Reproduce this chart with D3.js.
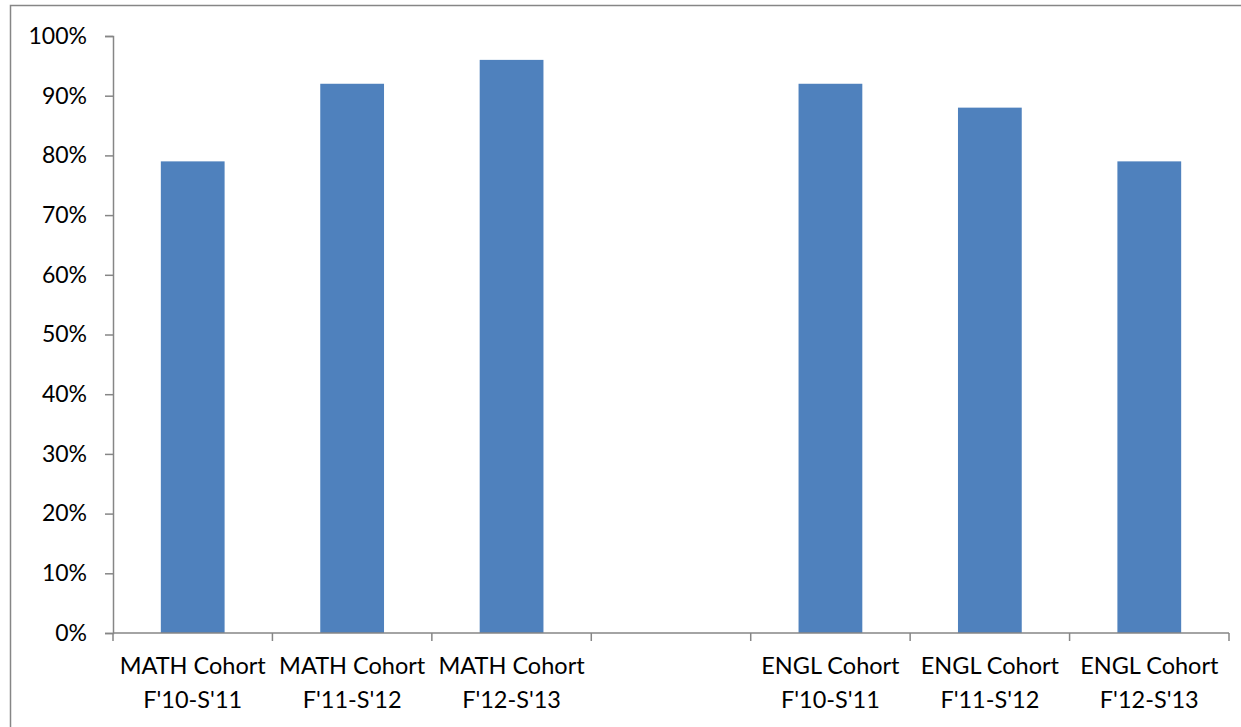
<!DOCTYPE html>
<html>
<head>
<meta charset="utf-8">
<script src="https://cdn.jsdelivr.net/npm/d3@7"></script>
<style>
  html, body { margin: 0; padding: 0; background: #fff; }
  svg { display: block; }
  text { font-family: Lato, "Open Sans", sans-serif; fill: #000; }
</style>
</head>
<body>
<svg id="chart" width="1241" height="727"></svg>
<script>
// Cohort categories (the blank one separates the MATH and ENGL groups)
const categories = [
  ["MATH Cohort", "F'10-S'11"],
  ["MATH Cohort", "F'11-S'12"],
  ["MATH Cohort", "F'12-S'13"],
  ["", ""],
  ["ENGL Cohort", "F'10-S'11"],
  ["ENGL Cohort", "F'11-S'12"],
  ["ENGL Cohort", "F'12-S'13"]
];
// Share per cohort, in percent (null = no bar)
const values = [79, 92, 96, null, 92, 88, 79];
const yTicks = [0, 10, 20, 30, 40, 50, 60, 70, 80, 90, 100];

const svg = d3.select("#chart");
const margin = { left: 113, right: 12, top: 36, bottom: 94 };
const W = 1241, H = 727;
const x0 = margin.left, x1 = W - margin.right;
const y0 = H - margin.bottom, y1 = margin.top;

// outer chart frame
svg.append("rect")
  .attr("x", 10.5).attr("y", 5.5)
  .attr("width", 1240).attr("height", 740)
  .attr("fill", "none").attr("stroke", "#868686").attr("stroke-width", 1.5);

const idx = categories.map((d, i) => i);
const x = d3.scaleBand().domain(idx).range([x0, x1])
  .paddingInner(0.6).paddingOuter(0.3);
const y = d3.scaleLinear().domain([0, 100]).range([y0, y1]);

// bars
svg.append("g").selectAll("rect")
  .data(values.map((v, i) => ({ v, i })).filter(d => d.v != null))
  .join("rect")
  .attr("x", d => x(d.i))
  .attr("width", x.bandwidth())
  .attr("y", d => y(d.v))
  .attr("height", d => y(0) - y(d.v))
  .attr("fill", "#4F81BD");

// y axis
const yAxis = svg.append("g")
  .attr("transform", `translate(${x0},0)`)
  .call(d3.axisLeft(y).tickValues(yTicks).tickFormat(d => d + "%").tickSize(8).tickPadding(18));
yAxis.select(".domain").attr("stroke", "#868686").attr("stroke-width", 1.5);
yAxis.selectAll(".tick line").attr("stroke", "#868686").attr("stroke-width", 1.5);
yAxis.selectAll(".tick text").style("font-size", "23px").attr("font-family", null).attr("fill", "#000");

// x axis baseline and category boundary ticks
const step = x.step();
const bounds = d3.range(categories.length + 1).map(i => x(0) - x.paddingOuter() * step + i * step);
svg.append("line")
  .attr("x1", x0).attr("x2", x1)
  .attr("y1", y0).attr("y2", y0)
  .attr("stroke", "#868686").attr("stroke-width", 1.5);
svg.append("g").selectAll("line")
  .data(bounds)
  .join("line")
  .attr("x1", d => d).attr("x2", d => d)
  .attr("y1", y0).attr("y2", y0 + 8)
  .attr("stroke", "#868686").attr("stroke-width", 1.5);

// two-line category labels
const lab = svg.append("g").selectAll("text")
  .data(idx.filter(i => categories[i][0] !== ""))
  .join("text")
  .attr("text-anchor", "middle")
  .style("font-size", "23.5px");
lab.append("tspan")
  .attr("x", i => x(i) + x.bandwidth() / 2)
  .attr("y", y0 + 41)
  .text(i => categories[i][0]);
lab.append("tspan")
  .attr("x", i => x(i) + x.bandwidth() / 2)
  .attr("y", y0 + 75)
  .text(i => categories[i][1]);
</script>
</body>
</html>
